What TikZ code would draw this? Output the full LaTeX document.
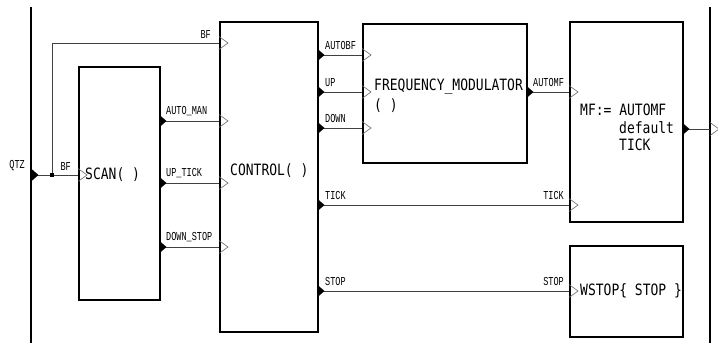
\documentclass[tikz,border=0pt]{standalone}
\usepackage{fontspec}
\usepackage{graphicx}
\setmainfont{Liberation Mono}
\newfontfamily\boxfont{DejaVu Sans Mono}
\newcommand\lbltxt[1]{\scalebox{0.95}[1.35]{\fontsize{9}{9}\selectfont #1}}
\newcommand\maintxt[1]{\scalebox{1}[1.2]{\boxfont\fontsize{13}{13}\selectfont #1}}
\tikzset{
  blk/.style={draw, line width=1.6pt, inner sep=0pt, anchor=north west},
  wire/.style={line width=0.9pt, draw=black!75},
  bound/.style={line width=1.6pt},
  lblL/.style={anchor=south west, inner sep=0pt},
  lblR/.style={anchor=south east, inner sep=0pt},
  mtext/.style={anchor=west, inner sep=0pt},
  outport/.pic={\fill (0,-6.5) -- (7.5,0) -- (0,6.5) -- cycle;},
  inport/.pic={\draw[line width=0.6pt, black!60] (0,-6.5) -- (9,0) -- (0,6.5);}
}
\begin{document}
\begin{tikzpicture}[x=1pt, y=-1pt]
\useasboundingbox (0,0) rectangle (718,343);
% boundaries
\draw[bound] (31,7) -- (31,343);
\draw[bound] (710,7) -- (710,343);
% blocks
\node[blk, minimum width=81pt, minimum height=233pt] (scan) at (78,66) {};
\node[blk, minimum width=98pt, minimum height=310pt] (ctl) at (219,21) {};
\node[blk, minimum width=164pt, minimum height=139pt] (fm) at (362,23) {};
\node[blk, minimum width=113pt, minimum height=200pt] (mf) at (569,21) {};
\node[blk, minimum width=113pt, minimum height=91pt] (ws) at (569,245) {};
% block texts
\node[mtext] (scant) at (85,175) {\maintxt{SCAN( )}};
\node[mtext] (ctlt) at (230,171) {\maintxt{CONTROL( )}};
\node[mtext] (fmt1) at (374,87) {\maintxt{FREQUENCY\_MODULATOR}};
\node[mtext] (fmt2) at (374,106) {\maintxt{( )}};
\node[mtext] (mft1) at (580,110) {\maintxt{MF:= AUTOMF}};
\node[mtext] (mft2) at (619,128) {\maintxt{default}};
\node[mtext] (mft3) at (619,145) {\maintxt{TICK}};
\node[mtext] (wst) at (580,291) {\maintxt{WSTOP\{ STOP \}}};
% port coordinates
\coordinate (qtz) at (31,175);
\coordinate (jn) at (52,175);
\coordinate (scanin) at (78,175);
\coordinate (ctlbf) at (219,43);
\coordinate (scanam) at (159,121);
\coordinate (scanut) at (159,183);
\coordinate (scands) at (159,247);
\coordinate (ctlam) at (219,121);
\coordinate (ctlut) at (219,183);
\coordinate (ctlds) at (219,247);
\coordinate (ctlabf) at (317,55);
\coordinate (ctlup) at (317,92);
\coordinate (ctldn) at (317,128);
\coordinate (ctltk) at (317,205);
\coordinate (ctlst) at (317,291);
\coordinate (fmabf) at (362,55);
\coordinate (fmup) at (362,92);
\coordinate (fmdn) at (362,128);
\coordinate (fmout) at (526,92);
\coordinate (mfam) at (569,92);
\coordinate (mftk) at (569,205);
\coordinate (mfout) at (682,129);
\coordinate (rout) at (710,129);
\coordinate (wsst) at (569,291);
% wires
\draw[wire] (qtz) -- (scanin);
\draw[wire] (jn) |- (ctlbf);
\fill (jn) +(-1.8,-1.8) rectangle +(1.8,1.8);
\draw[wire] (scanam) -- (ctlam);
\draw[wire] (scanut) -- (ctlut);
\draw[wire] (scands) -- (ctlds);
\draw[wire] (ctlabf) -- (fmabf);
\draw[wire] (ctlup) -- (fmup);
\draw[wire] (ctldn) -- (fmdn);
\draw[wire] (ctltk) -- (mftk);
\draw[wire] (ctlst) -- (wsst);
\draw[wire] (fmout) -- (mfam);
\draw[wire] (mfout) -- (rout);
% output ports
\foreach \p in {qtz,scanam,scanut,scands,ctlabf,ctlup,ctldn,ctltk,ctlst,fmout,mfout}
  \pic at (\p) {outport};
% input ports
\foreach \p in {scanin,ctlbf,ctlam,ctlut,ctlds,fmabf,fmup,fmdn,mfam,mftk,wsst,rout}
  \pic at (\p) {inport};
% labels
\node[lblR] (lqtz) at (25,171) {\lbltxt{QTZ}};
\node[lblR] (lbf1) at (71,171) {\lbltxt{BF}};
\node[lblR] (lbf2) at (211,39) {\lbltxt{BF}};
\node[lblL] (lam) at (166,116) {\lbltxt{AUTO\_MAN}};
\node[lblL] (lut) at (166,178) {\lbltxt{UP\_TICK}};
\node[lblL] (lds) at (166,242) {\lbltxt{DOWN\_STOP}};
\node[lblL] (labf) at (325,50) {\lbltxt{AUTOBF}};
\node[lblL] (lup) at (325,87) {\lbltxt{UP}};
\node[lblL] (ldn) at (325,123) {\lbltxt{DOWN}};
\node[lblL] (ltk1) at (325,200) {\lbltxt{TICK}};
\node[lblL] (lst1) at (325,286) {\lbltxt{STOP}};
\node[lblL] (lamf) at (533,87) {\lbltxt{AUTOMF}};
\node[lblR] (ltk2) at (564,200) {\lbltxt{TICK}};
\node[lblR] (lst2) at (564,286) {\lbltxt{STOP}};
\end{tikzpicture}
\end{document}
